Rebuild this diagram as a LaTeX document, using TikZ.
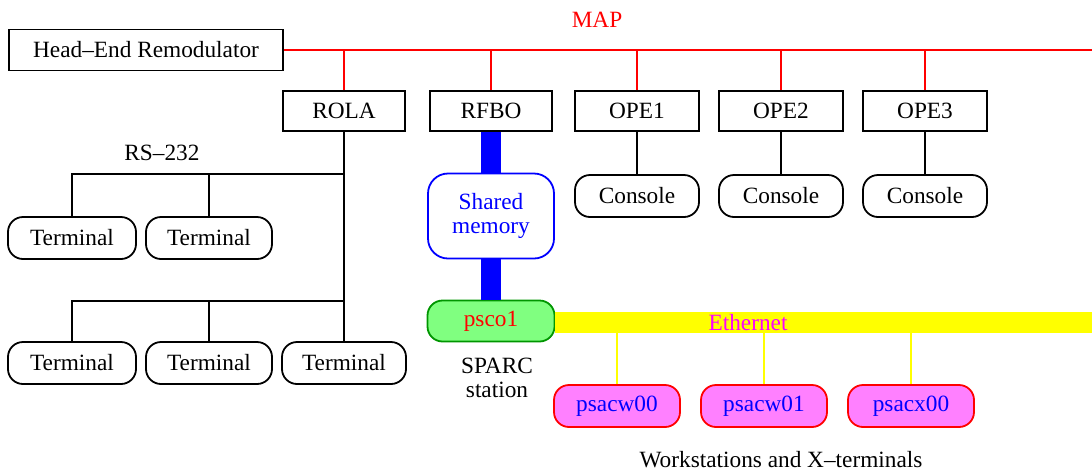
\documentclass[tikz,border=0pt]{standalone}
\usepackage{fontspec}
\setmainfont{Liberation Serif}
\definecolor{cred}{RGB}{255,0,0}
\definecolor{cblue}{RGB}{0,0,255}
\definecolor{cyel}{RGB}{255,255,0}
\definecolor{cmag}{RGB}{255,0,255}
\definecolor{cpink}{RGB}{255,128,255}
\definecolor{cgreen}{RGB}{128,255,128}
\definecolor{cdgreen}{RGB}{0,150,0}
\begin{document}
\begin{tikzpicture}[x=1pt,y=-1pt,
  every node/.style={font=\fontsize{23.3}{24}\selectfont, inner sep=0pt},
  sqbox/.style={draw, line width=1.8pt, minimum height=40pt},
  pill/.style={draw, line width=1.8pt, rounded corners=15pt, minimum width=126pt, minimum height=42pt},
  redline/.style={cred, line width=2pt},
  blkline/.style={black, line width=2pt},
  bluebar/.style={cblue, line width=20pt},
  yelthin/.style={cyel, line width=2pt},
  lbl/.style={align=center}]
\useasboundingbox (0,0) rectangle (1092,475);
% boxes
\node[sqbox, minimum width=274pt, minimum height=41pt] (her) at (146,50) {Head--End Remodulator};
\node[sqbox, minimum width=122pt] (rola) at (344,111) {ROLA};
\node[sqbox, minimum width=122pt] (rfbo) at (491,111) {RFBO};
\node[sqbox, minimum width=124pt] (ope1) at (637,111) {OPE1};
\node[sqbox, minimum width=124pt] (ope2) at (781,111) {OPE2};
\node[sqbox, minimum width=124pt] (ope3) at (925,111) {OPE3};
\node[pill, minimum width=124pt] (con1) at (637,196) {Console};
\node[pill, minimum width=124pt] (con2) at (781,196) {Console};
\node[pill, minimum width=124pt] (con3) at (925,196) {Console};
\node[pill, minimum width=128pt] (t1) at (72,238) {Terminal};
\node[pill] (t2) at (209,238) {Terminal};
\node[pill, minimum width=128pt] (t3) at (72,363) {Terminal};
\node[pill] (t4) at (209,363) {Terminal};
\node[pill, minimum width=124pt] (t5) at (344,363) {Terminal};
\node[cred] (map) at (597,20) {MAP};
\node (rs) at (162,153) {RS--232};
% MAP bus
\coordinate (mapend) at (1092,50);
\draw[redline] (her.east) -- (mapend);
\foreach \n in {rola,rfbo,ope1,ope2,ope3}{
  \draw[redline] (\n.north) -- (\n.north |- mapend);
}
\foreach \a/\b in {ope1/con1,ope2/con2,ope3/con3}{
  \draw[blkline] (\a.south) -- (\b.north);
}
% RS-232
\coordinate (r1) at (344,174);
\coordinate (r2) at (344,301);
\draw[blkline] (rola.south) -- (t5.north);
\draw[blkline] (r1) -| (t1.north);
\draw[blkline] (t2.north) -- (t2.north |- r1);
\draw[blkline] (r2) -| (t3.north);
\draw[blkline] (t4.north) -- (t4.north |- r2);
% shared memory and SPARC
\node[draw=cblue, line width=1.8pt, rounded corners=20pt, minimum width=126pt, minimum height=85pt, text=cblue, lbl, fill=white] (shm) at (491,216) {Shared\\memory};
\node[draw=cdgreen, line width=1.8pt, rounded corners=15pt, minimum width=127pt, minimum height=41pt, fill=cgreen, text=cred] (psc) at (491,321) {psco1};
\draw[bluebar] (rfbo.south) -- (shm.north);
\draw[bluebar] (shm.south) -- (psc.north);
\node[lbl] (sparc) at (497,378) {SPARC\\station};
% workstations
\node[pill, draw=cred, fill=cpink, text=cblue] (w1) at (617,406) {psacw00};
\node[pill, draw=cred, fill=cpink, text=cblue] (w2) at (764,406) {psacw01};
\node[pill, draw=cred, fill=cpink, text=cblue] (w3) at (911,406) {psacx00};
\coordinate (ethend) at (1092,322.5);
\foreach \w in {w1,w2,w3}{
  \draw[yelthin] (\w.north) -- (\w.north |- ethend);
}
\draw[cyel, line width=21pt] (psc.east |- ethend) -- (ethend);
\node[cmag] (eth) at (748,323) {Ethernet};
\node (wsl) at (781,460) {Workstations and X--terminals};
\end{tikzpicture}
\end{document}
